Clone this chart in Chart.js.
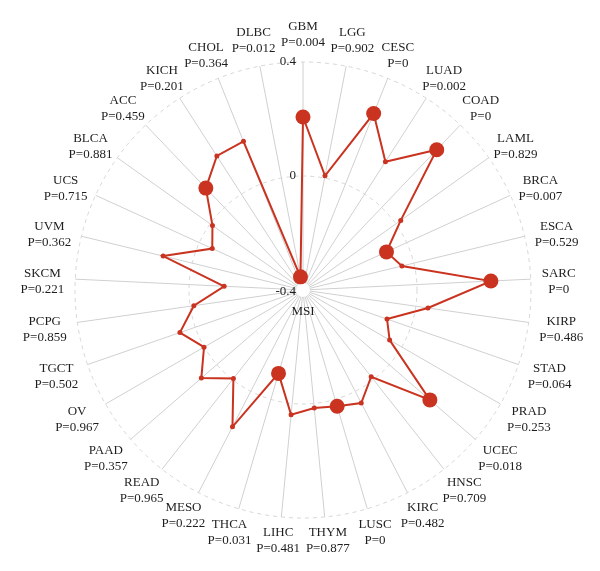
<!DOCTYPE html>
<html>
<head>
<meta charset="utf-8">
<script src="https://cdn.jsdelivr.net/npm/chart.js@4/dist/chart.umd.min.js"></script>
<style>
  html, body { margin: 0; padding: 0; background: #fff; }
  #wrap { width: 600px; height: 571px; }
</style>
</head>
<body>
<div id="wrap"><canvas id="msiRadar" width="600" height="571"></canvas></div>
<script>
// 암종 (시계방향, 위에서 시작)
const cancers = ['GBM', 'LGG', 'CESC', 'LUAD', 'COAD', 'LAML', 'BRCA', 'ESCA', 'SARC', 'KIRP', 'STAD',
    'PRAD', 'UCEC', 'HNSC', 'KIRC', 'LUSC', 'THYM', 'LIHC', 'THCA', 'MESO', 'READ', 'PAAD',
    'OV', 'TGCT', 'PCPG', 'SKCM', 'UVM', 'UCS', 'BLCA', 'ACC', 'KICH', 'CHOL', 'DLBC'];

const pValues = ['0.004', '0.902', '0', '0.002', '0', '0.829', '0.007', '0.529', '0', '0.486', '0.064',
    '0.253', '0.018', '0.709', '0.482', '0', '0.877', '0.481', '0.031', '0.222', '0.965', '0.357',
    '0.967', '0.502', '0.859', '0.221', '0.362', '0.715', '0.881', '0.459', '0.201', '0.364', '0.012'];

// MSI 상관계수
const msiValues = [0.207, 0.008, 0.267, 0.135, 0.280, 0.021, -0.078, -0.043, 0.260, 0.043, -0.088,
    -0.049, 0.189, -0.013, 0.046, 0.025, 0.016, 0.040, -0.095, 0.140, -0.005, 0.072,
    0.001, 0.057, -0.013, -0.123, 0.105, -0.050, -0.010, 0.094, 0.159, 0.162, -0.353];

// 큰 점으로 표시된 항목
const bigDot = [true, false, true, false, true, false, true, false, true, false, false,
    false, true, false, false, true, false, false, true, false, false, false,
    false, false, false, false, false, false, false, true, false, false, true];

const tickValues = [-0.4, 0, 0.4];
const axisTitle = 'MSI';

const RED = '#c9331f';
const FONT = '"Liberation Serif", "DejaVu Serif", serif';

// 가운데 흰 원 + 눈금 라벨 + MSI 제목 + 암종 라벨 (가운데 정렬 2줄)
const labelPlugin = {
    id: 'labelPlugin',
    beforeDatasetsDraw(chart) {
        const r = chart.scales.r;
        const ctx = chart.ctx;
        ctx.save();
        ctx.fillStyle = '#fff';
        ctx.beginPath();
        ctx.arc(r.xCenter, r.yCenter, 7, 0, Math.PI * 2);
        ctx.fill();

        ctx.fillStyle = '#1e1e1e';
        ctx.font = '13px ' + FONT;
        ctx.textAlign = 'right';
        ctx.textBaseline = 'middle';
        tickValues.forEach(v => {
            const d = r.getDistanceFromCenterForValue(v);
            ctx.fillText(String(v), r.xCenter - 7, r.yCenter - d + (d === 0 ? 2 : 0));
        });
        ctx.textAlign = 'center';
        ctx.fillText(axisTitle, r.xCenter, r.yCenter + 22);

        // 바깥 원에서 조금 떨어진 기준점에 상자 가장자리를 맞춤
        const anchorDist = r.drawingArea + 11;
        const halfH = 14;
        cancers.forEach((c, i) => {
            const line2 = 'P=' + pValues[i];
            const w = Math.max(ctx.measureText(c).width, ctx.measureText(line2).width);
            const p = r.getPointPosition(i, anchorDist);
            const side = Math.abs(Math.cos(p.angle));
            const cx = p.x + Math.cos(p.angle) * w / 2;
            const cy = p.y + Math.sin(p.angle) * halfH + 6 * side - 2;
            ctx.fillText(c, cx, cy - 8);
            ctx.fillText(line2, cx, cy + 8);
        });
        ctx.restore();
    }
};

new Chart(document.getElementById('msiRadar'), {
    type: 'radar',
    data: {
        labels: cancers,
        datasets: [{
            label: 'MSI',
            data: msiValues,
            borderColor: RED,
            backgroundColor: RED,
            borderWidth: 2,
            fill: false,
            tension: 0,
            pointRadius: bigDot.map(b => b ? 7.5 : 2.5),
            pointBackgroundColor: RED,
            pointBorderColor: RED,
            pointBorderWidth: 0
        }]
    },
    options: {
        responsive: false,
        animation: false,
        devicePixelRatio: 1,
        layout: { padding: { top: 62, bottom: 52, left: 75, right: 68 } },
        plugins: {
            legend: { display: false },
            tooltip: { enabled: false }
        },
        scales: {
            r: {
                min: -0.4,
                max: 0.4,
                ticks: { stepSize: 0.4, display: false },
                grid: { circular: true, color: '#d6d6d6', lineWidth: 1 },
                border: { dash: [4, 4] },
                angleLines: { color: '#d0d0d0', lineWidth: 1 },
                pointLabels: { display: false }
            }
        }
    },
    plugins: [labelPlugin]
});
</script>
</body>
</html>
